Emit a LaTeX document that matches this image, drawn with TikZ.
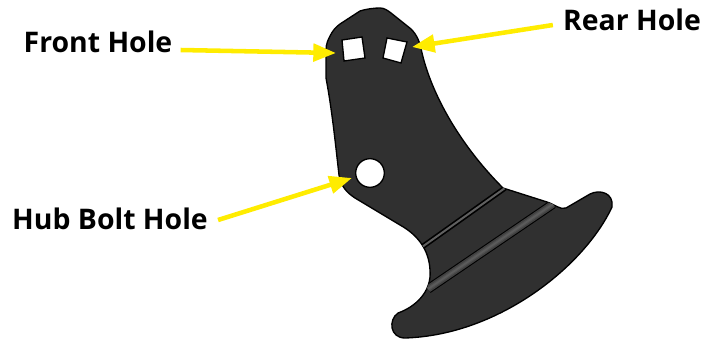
\documentclass[tikz,border=0pt]{standalone}
\usepackage{fontspec}
\setmainfont{Open Sans}
\usetikzlibrary{arrows.meta}
\definecolor{partgray}{RGB}{48,48,48}
\definecolor{markyellow}{RGB}{255,236,0}
\tikzset{
  holelabel/.style={font=\fontsize{21.3}{25}\selectfont\bfseries,inner sep=3pt},
  pointer/.style={draw=markyellow,line width=3.4pt,-{Triangle[length=17pt,width=13pt]}}
}
\begin{document}
\begin{tikzpicture}[x=0.75pt,y=-0.75pt]
    \useasboundingbox (0,0) rectangle (702,339);
    % Part outline, in image pixels
    \def\partoutline{(330,36) .. controls (333,30) and (336,27) .. (340,24) -- (360,11)
      .. controls (366,9) and (374,8) .. (380,8) .. controls (384,8) and (387,10) .. (391,13)
      -- (411,29) .. controls (417,35) and (420,42) .. (422,53)
      .. controls (432,95) and (460,145) .. (503,188) -- (547,202)
      .. controls (556,205) and (560,210) .. (566,208) -- (590,194)
      .. controls (600,189) and (614,193) .. (612,207)
      .. controls (585,265) and (500,335) .. (405,338)
      .. controls (390,338) and (388,320) .. (398,313)
      .. controls (415,307) and (432,292) .. (430,270)
      .. controls (429,250) and (418,235) .. (400,225) -- (355,198)
      .. controls (346,192) and (341,186) .. (339,175)
      .. controls (335,140) and (332,110) .. (326,78) -- (326,50)
      .. controls (326,44) and (328,40) .. (330,36) -- cycle}
    \draw[black,line width=1pt,fill=partgray] \partoutline;
    % Bends
    \begin{scope}
      \clip \partoutline;
      \draw[black,line width=4pt] (422,247) -- (505,188);
      \draw[gray!60!partgray,line width=1.5pt] (422,247) -- (505,188);
      \draw[black,line width=7pt] (428,289) -- (553,204);
      \draw[gray!20!partgray,line width=5.4pt] (428,289) -- (553,204);
      \draw[gray!40!partgray,line width=3pt] (428,289) -- (553,204);
      \draw[gray!55!partgray,line width=1.2pt] (428,289) -- (553,204);
    \end{scope}
    % Holes
    \draw[black,line width=1pt,fill=white] (342,40) -- (362,37) -- (365,58) -- (344,61) -- cycle;
    \draw[black,line width=1pt,fill=white] (387,38) -- (407,42) -- (401,63) -- (383,58) -- cycle;
    \node (hubcircle) at (370,173) [circle,draw=black,line width=1pt,fill=white,minimum size=21.5pt,inner sep=0pt] {};
    % Labels and pointers
    \node (fronthole) at (98,42) [holelabel] {Front Hole};
    \node (rearhole) at (632,20) [holelabel] {Rear Hole};
    \node (hubhole) at (110,219) [holelabel] {Hub Bolt Hole};
    \coordinate (fronttip) at (336,53);
    \coordinate (reartip) at (412,47);
    \coordinate (hubtip) at (352,178);
    \draw[pointer] (fronthole.east) ++(4,8) -- (fronttip);
    \draw[pointer] (rearhole.west) ++(-6,5) -- (reartip);
    \draw[pointer] (hubhole.east) ++(6,1) -- (hubtip);
  \end{tikzpicture}
\end{document}
